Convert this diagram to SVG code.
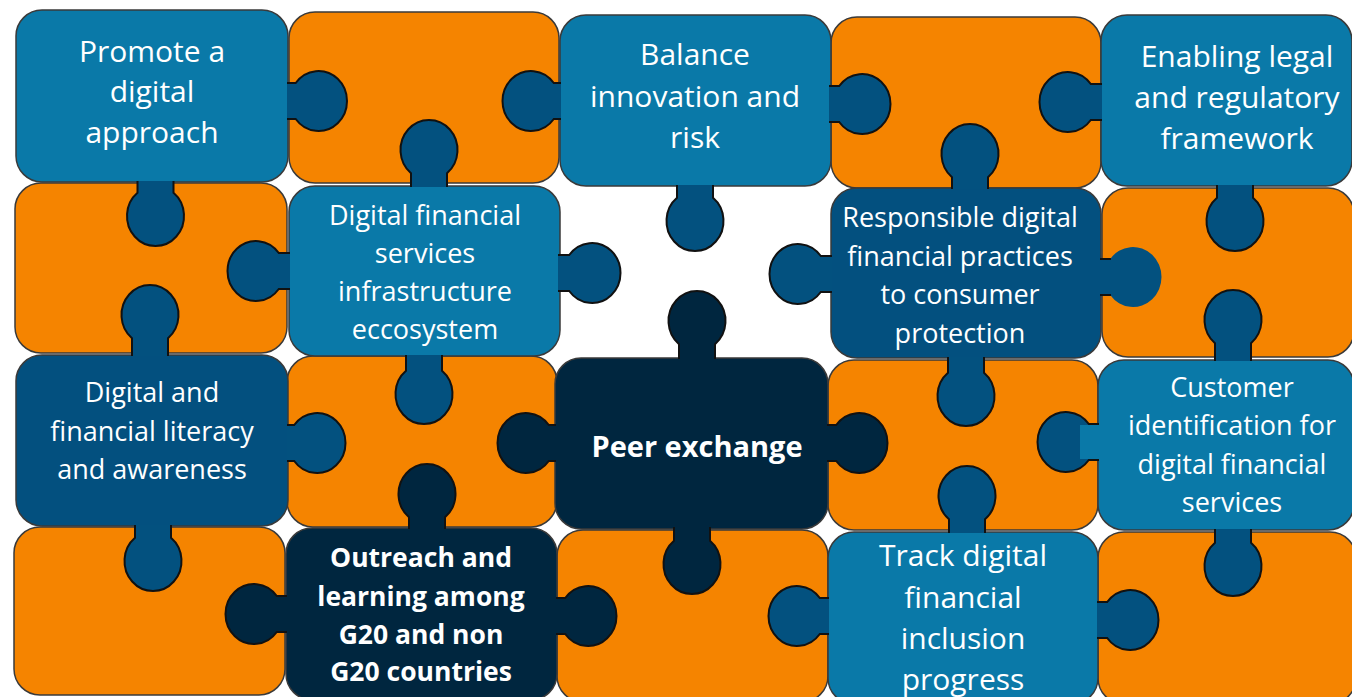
<svg xmlns="http://www.w3.org/2000/svg" width="1352" height="697" viewBox="0 0 1352 697">
<style>
.t{stroke:#3a3a3a;stroke-width:1.5}
.lb{fill:#0a79a8}.db{fill:#03507f}.nv{fill:#00263f}.or{fill:#f58400}
.k{fill:#03517f;stroke:#111;stroke-width:2}
.kn{fill:#00263f;stroke:#111;stroke-width:2}
.tx{fill:#fff;font-family:"Open Sans","Noto Sans",sans-serif;text-anchor:middle}
.s30{font-size:30px}.s27{font-size:27px}
.b{font-weight:bold}
</style>
<rect width="1352" height="697" fill="#fff"/>
<g id="tiles-orange">
<rect class="t or" x="289" y="12" width="270" height="171" rx="26"/>
<rect class="t or" x="831" y="17" width="270" height="171" rx="26"/>
<rect class="t or" x="15" y="183" width="272" height="170" rx="26"/>
<rect class="t or" x="1102" y="188" width="252" height="169" rx="26"/>
<rect class="t or" x="287" y="356" width="270" height="171" rx="26"/>
<rect class="t or" x="828" y="360" width="270" height="170" rx="26"/>
<rect class="t or" x="14" y="527" width="271" height="168" rx="26"/>
<rect class="t or" x="557" y="530" width="271" height="172" rx="26"/>
<rect class="t or" x="1098" y="532" width="258" height="172" rx="26"/>
</g>
<g id="node-promote"><rect class="t lb" x="16" y="10" width="272" height="172" rx="26"/>
<text class="tx s30"><tspan x="152" y="62">Promote a</tspan><tspan x="152" y="102">digital</tspan><tspan x="152" y="143">approach</tspan></text></g>
<g id="node-balance"><rect class="t lb" x="560" y="15" width="271" height="171" rx="26"/>
<text class="tx s30"><tspan x="695" y="65">Balance</tspan><tspan x="695" y="107">innovation and</tspan><tspan x="695" y="148">risk</tspan></text></g>
<g id="node-legal"><rect class="t lb" x="1101" y="15" width="251" height="171" rx="26"/>
<text class="tx s30"><tspan x="1237" y="67">Enabling legal</tspan><tspan x="1237" y="108">and regulatory</tspan><tspan x="1237" y="149">framework</tspan></text></g>
<g id="node-infra"><rect class="t lb" x="289" y="186" width="271" height="170" rx="26"/>
<text class="tx s27"><tspan x="425" y="225">Digital financial</tspan><tspan x="425" y="263">services</tspan><tspan x="425" y="301">infrastructure</tspan><tspan x="425" y="339">eccosystem</tspan></text></g>
<g id="node-responsible"><rect class="t db" x="831" y="188" width="270" height="170" rx="26"/>
<text class="tx s27"><tspan x="960" y="227">Responsible digital</tspan><tspan x="960" y="266">financial practices</tspan><tspan x="960" y="304">to consumer</tspan><tspan x="960" y="343">protection</tspan></text></g>
<g id="node-literacy"><rect class="t db" x="16" y="355" width="272" height="171" rx="26"/>
<text class="tx s27"><tspan x="152" y="402">Digital and</tspan><tspan x="152" y="441">financial literacy</tspan><tspan x="152" y="479">and awareness</tspan></text></g>
<g id="node-peer"><rect class="t nv" x="555" y="358" width="273" height="171" rx="26"/>
<text class="tx b" style="font-size:29px" x="697" y="457">Peer exchange</text></g>
<g id="node-customer"><rect class="t lb" x="1098" y="360" width="256" height="170" rx="26"/>
<text class="tx s27"><tspan x="1232" y="397">Customer</tspan><tspan x="1232" y="435">identification for</tspan><tspan x="1232" y="474">digital financial</tspan><tspan x="1232" y="512">services</tspan></text></g>
<g id="node-outreach"><rect class="t nv" x="286" y="528" width="271" height="172" rx="26"/>
<text class="tx b" style="font-size:26.5px"><tspan x="421" y="567">Outreach and</tspan><tspan x="421" y="606">learning among</tspan><tspan x="421" y="644">G20 and non</tspan><tspan x="421" y="681">G20 countries</tspan></text></g>
<g id="node-track"><rect class="t lb" x="828" y="532" width="270" height="172" rx="26"/>
<text class="tx s30"><tspan x="963" y="566">Track digital</tspan><tspan x="963" y="608">financial</tspan><tspan x="963" y="649">inclusion</tspan><tspan x="963" y="690">progress</tspan></text></g>
<g id="connectors">
<path class="k" d="M287 83 H295.7 A28.5 30 0 1 1 295.7 119 H287"/>
<path class="k" d="M137.5 181 V192.75 A28.5 30 0 1 0 173.5 192.75 V181"/>
<path class="k" d="M411 187 V173.25 A28.5 30 0 1 1 447 173.25 V187"/>
<path class="k" d="M561 83 H553.8 A28.5 30 0 1 0 553.8 119 H561"/>
<path class="k" d="M677 185 V197.75 A28.5 30 0 1 0 713 197.75 V185"/>
<path class="k" d="M829 86 H839.2 A28.5 30 0 1 1 839.2 122 H829"/>
<path class="k" d="M1102 84 H1090.8 A28.5 30 0 1 0 1090.8 120 H1102"/>
<path class="k" d="M952 189 V177.25 A28.5 30 0 1 1 988 177.25 V189"/>
<path class="k" d="M1217 185 V197.75 A28.5 30 0 1 0 1253 197.75 V185"/>
<path class="k" d="M290 253 H278.8 A28.5 30 0 1 0 278.8 289 H290"/>
<path class="k" d="M132 356 V338.25 A28.5 30 0 1 1 168 338.25 V356"/>
<path class="k" d="M558 255 H569.2 A28.5 30 0 1 1 569.2 291 H558"/>
<path class="k" d="M832 256 H820.8 A28.5 30 0 1 0 820.8 292 H832"/>
<path class="kn" d="M679 359 V344.25 A28.5 30 0 1 1 715 344.25 V359"/>
<path class="k" d="M1100 259 H1110.2 A28.5 30 0 1 1 1110.2 295 H1100" style="stroke:none"/>
<path d="M1100 259 H1111 M1100 295 H1111" stroke="#111" stroke-width="2"/>
<path class="k" d="M1215 361 V343.25 A28.5 30 0 1 1 1251 343.25 V361"/>
<path class="k" d="M948 357 V372.75 A28.5 30 0 1 0 984 372.75 V357"/>
<path class="k" d="M1099 424 H1088.8 A28.5 30 0 1 0 1088.8 460 H1099"/>
<rect x="1080" y="425" width="19" height="34" fill="#0a79a8"/>
<path class="k" d="M406 355 V370.75 A28.5 30 0 1 0 442 370.75 V355"/>
<path class="k" d="M287 425 H294.2 A28.5 30 0 1 1 294.2 461 H287"/>
<path class="kn" d="M556 425 H548.8 A28.5 30 0 1 0 548.8 461 H556"/>
<path class="kn" d="M827 425 H836.2 A28.5 30 0 1 1 836.2 461 H827"/>
<path class="kn" d="M409 529 V517.25 A28.5 30 0 1 1 445 517.25 V529"/>
<path class="k" d="M949 533 V519.25 A28.5 30 0 1 1 985 519.25 V533"/>
<path class="k" d="M135 525 V537.75 A28.5 30 0 1 0 171 537.75 V525"/>
<path class="kn" d="M287 596 H276.8 A28.5 30 0 1 0 276.8 632 H287"/>
<path class="kn" d="M674 527 V540.75 A28.5 30 0 1 0 710 540.75 V527"/>
<path class="kn" d="M556 598 H565.2 A28.5 30 0 1 1 565.2 634 H556"/>
<path class="k" d="M829 598 H819.8 A28.5 30 0 1 0 819.8 634 H829"/>
<path class="k" d="M1215 529 V542.75 A28.5 30 0 1 0 1251 542.75 V529"/>
<path class="k" d="M1097 602 H1107.2 A28.5 30 0 1 1 1107.2 638 H1097"/>
</g>
</svg>
